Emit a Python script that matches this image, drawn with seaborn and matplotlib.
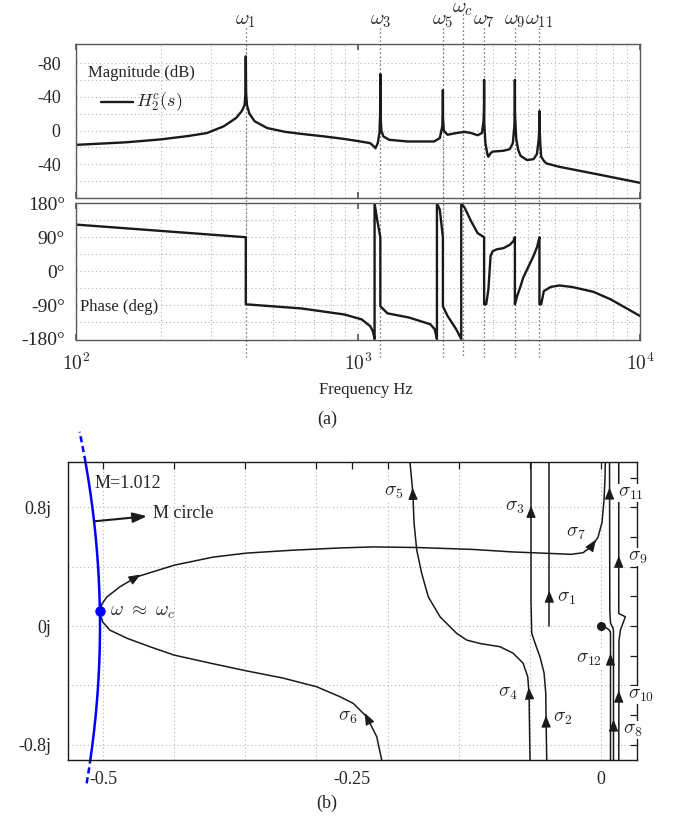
import numpy as np
import pandas as pd
import matplotlib
matplotlib.use("Agg")
import matplotlib.pyplot as plt
import matplotlib.transforms as mtransforms
from matplotlib.ticker import NullLocator
import seaborn as sns

sns.set_theme(style="white")
plt.rcParams["font.family"] = ["Liberation Serif", "DejaVu Serif"]
plt.rcParams["mathtext.fontset"] = "cm"
plt.rcParams["axes.unicode_minus"] = False

# ---------------- Bode plot of H2c(s) ----------------
mag_freq = [100, 150, 200, 250, 291, 334, 370, 387, 396, 399, 400, 401, 404, 412, 430,
            476, 550, 630, 760, 895, 1000, 1105, 1140, 1153, 1175, 1192, 1198, 1200,
            1202, 1210, 1230, 1290, 1500, 1860, 1950, 1990, 1998, 2000, 2002, 2015,
            2050, 2078, 2229, 2391, 2520, 2655, 2750, 2785, 2797, 2800, 2803, 2830,
            2880, 2900, 2950, 3003, 3279, 3455, 3540, 3585, 3597, 3600, 3603, 3640,
            3700, 3771, 3975, 4190, 4310, 4375, 4397, 4400, 4403, 4430, 4463, 4560,
            4656, 5171, 7345, 10000]
mag_db = [-17, -14, -10.5, -6.5, -3, 5, 15, 23, 30, 45, 88, 45, 30, 20, 11,
          3, -1.5, -4, -7, -10, -12.5, -15, -19, -21, -15, -2, 20, 67,
          20, 0, -7, -11, -13, -13, -9, 5, 20, 48, 15, 0,
          -3, -5, -3, -1.6, -3, -5.6, -3, 10, 25, 60, 10, -15,
          -29, -31, -27, -25, -24, -22, -15, 5, 25, 60, 20, -10,
          -23, -30, -35, -34, -28, -10, 5, 23, 5, -15, -31, -36,
          -39, -43, -53, -62]

phase_freq = [100, 400, 400, 630, 895, 1030, 1105, 1130, 1145, 1145, 1169, 1200, 1200,
              1272, 1515, 1806, 1870, 1905, 1905, 1950, 2000, 2000, 2078, 2229, 2323,
              2323, 2390, 2520, 2655, 2800, 2800, 2849, 2900, 2952, 3003, 3110, 3280,
              3455, 3560, 3600, 3600, 3667, 3771, 3850, 3975, 4190, 4320, 4400, 4400,
              4463, 4560, 4820, 5171, 5740, 6846, 7880, 10000]
phase_deg = [123.5, 90, -88, -99, -115, -128, -146, -160, -180, 180, 137, 90, -93,
             -112, -123, -141, -154, -180, 180, 163, 90, -93, -119, -154, -180,
             180, 168, 132, 101, 90, -88, -88, -48, 40, 53, 58, 61,
             70, 80, 90, -88, -66, -40, -18, 4, 40, 65, 90, -88,
             -88, -53, -42, -38, -42, -55, -75, -119]

harmonic_freqs = [400, 1200, 2000, 2800, 3600, 4400]
harmonic_names = [r"$\omega_1$", r"$\omega_3$", r"$\omega_5$", r"$\omega_7$",
                  r"$\omega_9$", r"$\omega_{11}$"]
crossover_freq = 2350

mag_ticks = [80, 40, 0, -40]
mag_ticklabels = ["-80", "-40", "0", "-40"]
phase_ticks = [180, 90, 0, -90, -180]
phase_ticklabels = ["180°", "90°", "0°", "-90°", "-180°"]
freq_ticks = [100, 1000, 10000]
freq_ticklabels = [r"$10^2$", r"$10^3$", r"$10^4$"]

# ---------------- Nyquist branches (real, imag) ----------------
b67_re = [-0.2185, -0.2202, -0.2252, -0.2352, -0.2487, -0.2620, -0.2854, -0.3193, -0.3564,
          -0.3926, -0.4287, -0.4528, -0.4762, -0.4930, -0.5005, -0.5030, -0.5010, -0.4960,
          -0.4830, -0.4662, -0.4284, -0.3896, -0.3564, -0.3092, -0.2620, -0.2289, -0.1850,
          -0.1285, -0.0884, -0.0512, -0.0300, -0.0180, -0.0090, -0.0030, 0.0010, 0.0030,
          0.0040, 0.0045]
b67_im = [-0.95, -0.902, -0.745, -0.611, -0.521, -0.476, -0.409, -0.350, -0.301,
          -0.249, -0.195, -0.139, -0.081, -0.027, 0.030, 0.100, 0.150, 0.197,
          0.265, 0.332, 0.411, 0.465, 0.492, 0.512, 0.527, 0.534, 0.530,
          0.517, 0.500, 0.490, 0.484, 0.495, 0.540, 0.600, 0.700, 0.850,
          1.000, 1.200]
b45_re = [-0.0713, -0.0713, -0.0723, -0.0736, -0.0783, -0.0884, -0.1014, -0.1215, -0.1348,
          -0.1449, -0.1616, -0.1734, -0.1800, -0.1850, -0.1877, -0.1890, -0.1918, -0.1925]
b45_im = [-0.95, -0.902, -0.451, -0.341, -0.249, -0.182, -0.139, -0.117, -0.094,
          -0.049, 0.063, 0.197, 0.355, 0.512, 0.694, 0.904, 1.106, 1.20]
b23_re = [-0.0545, -0.0545, -0.0552, -0.0555, -0.0572, -0.0612, -0.0663, -0.0696, -0.0703,
          -0.0703, -0.0703]
b23_im = [-0.95, -0.902, -0.633, -0.451, -0.316, -0.209, -0.114, -0.047, 0.175, 0.781, 1.20]
b1_re = [-0.0519, -0.0519]
b1_im = [0.0, 1.20]
b12_re = [0.0095, 0.0095, 0.0093, 0.0075, 0.0055, 0.0030, 0.0]
b12_im = [-0.95, -0.060, -0.038, -0.022, -0.013, -0.006, 0.0]
b811_re = [0.0125, 0.0125, 0.0120, 0.0095, 0.0088, 0.0085]
b811_im = [-0.95, -0.030, -0.013, 0.020, 0.100, 1.20]
b109_re = [0.0178, 0.0180, 0.0194, 0.0244, 0.0178, 0.0178]
b109_im = [-0.95, -0.100, -0.027, 0.063, 0.085, 1.20]

branches = {"b67": (b67_re, b67_im), "b45": (b45_re, b45_im), "b23": (b23_re, b23_im),
            "b1": (b1_re, b1_im), "b12": (b12_re, b12_im), "b811": (b811_re, b811_im),
            "b109": (b109_re, b109_im)}

# arrow marks: branch, real, imag
arrow_branch = ["b1", "b23", "b23", "b45", "b45", "b67", "b67", "b811", "b109", "b109",
                "b811", "b12", "b67"]
arrow_re = [-0.0519, -0.0552, -0.0703, -0.0723, -0.1890, -0.2352, -0.0077, 0.0125, 0.0178,
            0.0178, 0.0085, 0.0095, -0.4662]
arrow_im = [0.209, -0.633, 0.781, -0.444, 0.902, -0.613, 0.557, -0.660, 0.444,
            -0.465, 0.904, -0.215, 0.332]

sigma_names = [r"$\sigma_{%d}$" % k for k in range(1, 13)]
sigma_re = [-0.0442, -0.0482, -0.0773, -0.0833, -0.1988, -0.2450, -0.0251, 0.0221, 0.0271,
            0.0271, 0.0171, 0.0005]
sigma_im = [0.189, -0.620, 0.801, -0.451, 0.902, -0.613, 0.624, -0.700, 0.465,
            -0.465, 0.896, -0.224]
sigma_ha = ["left", "left", "right", "right", "right", "right", "center", "left", "left",
            "left", "left", "right"]

m_value = 1.012
touch_imag = 0.10

nyq_xticks = [-0.5, -3 / 7, -5 / 14, -2 / 7, -0.25, -3 / 14, -1 / 7, -1 / 14, 0.0]
nyq_xticklabels = ["-0.5", "", "", "", "-0.25", "", "", "", "0"]
nyq_xgrid = [-0.5, -3 / 7, -5 / 14, -2 / 7, -3 / 14, -1 / 7, -1 / 14, 0.0]
nyq_yticks = [-0.8, -0.6, -0.4, -0.2, 0.0, 0.2, 0.4, 0.6, 0.8, 1.0]
nyq_yticklabels = ["-0.8j", "", "", "", "0j", "", "", "", "0.8j", ""]
nyq_ygrid = [-0.8, -0.4, 0.0, 0.4, 0.8]

# ---------------- figure ----------------
W, H = 673, 822
fig = plt.figure(figsize=(W / 100, H / 100), dpi=100)


def frame(left, top, right, bottom):
    return fig.add_axes([left / W, 1 - bottom / H, (right - left) / W, (bottom - top) / H])


ax_mag = frame(76, 44, 640, 198)
ax_ph = frame(76, 203, 640, 340)
ax_ny = frame(68, 462, 637, 760)

DOT = (0, (1, 2.5))
GRID = "0.70"
FS = 12

grid_freqs = [m * 10 ** e for e in (2, 3) for m in range(1, 10)] + [10000]

for ax in (ax_mag, ax_ph):
    ax.set_xscale("log")
    ax.set_xlim(100, 10000)
    ax.patch.set_alpha(0)
    for f in grid_freqs:
        ax.axvline(f, color=GRID, lw=0.8, ls=DOT, zorder=0)
    for s in ax.spines.values():
        s.set_color("0.35")
        s.set_linewidth(1.0)

# magnitude
sns.lineplot(data=pd.DataFrame({"f": mag_freq, "db": mag_db}), x="f", y="db", ax=ax_mag,
             color="k", lw=1.7, sort=False, estimator=None)
ax_mag.set_ylim(-80, 102.6)
for v in range(-60, 100, 20):
    ax_mag.axhline(v, color=GRID, lw=0.8, ls=DOT, zorder=0)
ax_mag.set_yticks(mag_ticks)
ax_mag.set_yticklabels(mag_ticklabels)
ax_mag.set_xticks(freq_ticks)
ax_mag.set_xticklabels([])

ax_mag.plot([0.0443, 0.1011], [0.6234, 0.6234], transform=ax_mag.transAxes, color="k", lw=1.7)
ax_mag.text(0.0213, 0.8117, "Magnitude (dB)", transform=ax_mag.transAxes, ha="left",
            va="center", fontsize=FS)
ax_mag.text(0.1064, 0.6234, r"$H_2^c(s)$", transform=ax_mag.transAxes, ha="left",
            va="center", fontsize=FS + 1)

# phase
sns.lineplot(data=pd.DataFrame({"f": phase_freq, "deg": phase_deg}), x="f", y="deg",
             ax=ax_ph, color="k", lw=1.7, sort=False, estimator=None)
ax_ph.set_ylim(-182.7, 180.8)
for v in range(-135, 180, 45):
    ax_ph.axhline(v, color=GRID, lw=0.8, ls=DOT, zorder=0)
ax_ph.set_yticks(phase_ticks)
ax_ph.set_yticklabels(phase_ticklabels)
ax_ph.set_xticks(freq_ticks)
ax_ph.set_xticklabels(freq_ticklabels)
ax_ph.text(0.007, 0.243, "Phase (deg)", transform=ax_ph.transAxes, ha="left", va="center",
           fontsize=FS, bbox=dict(facecolor="white", edgecolor="none", pad=0.6))

for ax in (ax_mag, ax_ph):
    ax.set_xlabel("")
    ax.set_ylabel("")
    ax.xaxis.set_minor_locator(NullLocator())
    ax.tick_params(axis="x", which="major", direction="in", length=4, top=True,
                   bottom=True, color="0.35", labelsize=FS + 2, pad=9)
ax_mag.tick_params(axis="y", length=0, labelsize=FS + 1, pad=11)
ax_ph.tick_params(axis="y", length=0, labelsize=FS + 2, pad=8)

# resonance markers spanning both Bode panels
trans = mtransforms.blended_transform_factory(ax_mag.transData, fig.transFigure)
for f, name in zip(harmonic_freqs, harmonic_names):
    ax_mag.plot([f, f], [1 - 28 / H, 1 - 357 / H], transform=trans, clip_on=False,
                color="0.3", lw=0.9, ls=(0, (1, 2.2)), zorder=1)
    ax_mag.text(f, 1 - 20 / H, name, transform=trans, ha="center", va="center",
                fontsize=FS + 3)
ax_mag.plot([crossover_freq] * 2, [1 - 14 / H, 1 - 357 / H], transform=trans, clip_on=False,
            color="0.3", lw=0.9, ls=(0, (1, 2.2)), zorder=1)
ax_mag.text(crossover_freq, 1 - 9 / H, r"$\omega_c$", transform=trans, ha="center",
            va="center", fontsize=FS + 3)

fig.text(366 / W, 1 - 390 / H, "Frequency Hz", ha="center", va="center", fontsize=FS)
fig.text(327 / W, 1 - 419 / H, "(a)", ha="center", va="center", fontsize=FS + 1)

# ---------------- Nyquist panel ----------------
ax_ny.set_xlim(-0.5351, 0.0361)
ax_ny.set_ylim(-0.9024, 1.1064)
for x in nyq_xgrid:
    ax_ny.axvline(x, color=GRID, lw=0.8, ls=DOT, zorder=0)
for y in nyq_ygrid:
    ax_ny.axhline(y, color=GRID, lw=0.8, ls=DOT, zorder=0)

for name, (re, im) in branches.items():
    sns.lineplot(x=re, y=im, ax=ax_ny, color="k", lw=1.1, sort=False, estimator=None)

# M circle: |G/(1+G)| = M
centre = -m_value ** 2 / (m_value ** 2 - 1)
radius = m_value / (m_value ** 2 - 1)
arc_in = np.linspace(-0.9024, 1.1064, 300)
sns.lineplot(x=centre + np.sqrt(radius ** 2 - arc_in ** 2), y=arc_in, ax=ax_ny,
             color="#0000ff", lw=1.8, sort=False, estimator=None)
for lo, hi in ((1.1064, 1.31), (-1.06, -0.9024)):
    arc_out = np.linspace(lo, hi, 40)
    ax_ny.plot(centre + np.sqrt(radius ** 2 - arc_out ** 2), arc_out, color="#0000ff",
               lw=1.8, ls=(0, (2.5, 1.5)), clip_on=False)
ax_ny.plot([centre + np.sqrt(radius ** 2 - touch_imag ** 2)], [touch_imag], "o",
           color="#0000ff", ms=6.5, zorder=5)
ax_ny.plot([0.0], [0.0], "o", color="k", ms=5.5, zorder=5)

ax_ny.set_xlabel("")
ax_ny.set_ylabel("")


def arrow_on(ax, xs, ys, px, py):
    T = ax.transData
    pts = T.transform(np.column_stack([xs, ys]))
    p = T.transform((px, py))
    best = None
    for a, b in zip(pts[:-1], pts[1:]):
        d = b - a
        L = np.hypot(*d)
        if L == 0:
            continue
        t = np.clip(np.dot(p - a, d) / L ** 2, 0, 1)
        dist = np.hypot(*(a + t * d - p))
        if best is None or dist < best[0]:
            best = (dist, d / L)
    u = best[1]
    tip = T.inverted().transform(p + 4.5 * u)
    tail = T.inverted().transform(p - 5 * u)
    ax.annotate("", xy=tip, xytext=tail,
                arrowprops=dict(arrowstyle="-|>,head_length=0.6,head_width=0.24",
                                color="k", lw=0.8, shrinkA=0, shrinkB=0, mutation_scale=12))


for br, px, py in zip(arrow_branch, arrow_re, arrow_im):
    arrow_on(ax_ny, *branches[br], px, py)

for name, x, y, ha in zip(sigma_names, sigma_re, sigma_im, sigma_ha):
    ax_ny.text(x, y, name, ha=ha, va="center", fontsize=FS + 2, clip_on=False, zorder=6,
               bbox=dict(facecolor="white", edgecolor="none", pad=0.3))

ax_ny.text(-0.508, 0.963, "M=1.012", ha="left", va="center", fontsize=FS + 1)
ax_ny.annotate("", xy=(-0.4558, 0.741), xytext=(-0.508, 0.707),
               arrowprops=dict(arrowstyle="-|>,head_length=0.7,head_width=0.25", color="k",
                               lw=1.5, shrinkA=0, shrinkB=0, mutation_scale=12))
ax_ny.text(-0.4498, 0.761, "M circle", ha="left", va="center", fontsize=FS + 1)
ax_ny.text(-0.493, 0.094, r"$\omega\ \approx\ \omega_c$", ha="left", va="center",
           fontsize=FS + 2)

ax_ny.set_xticks(nyq_xticks)
ax_ny.set_xticklabels(nyq_xticklabels)
ax_ny.set_yticks(nyq_yticks)
ax_ny.set_yticklabels(nyq_yticklabels)
ax_ny.tick_params(direction="in", length=5, width=0.9, top=True, right=True, color="k",
                  labelsize=FS + 1, pad=8)
ax_ny.tick_params(axis="y", pad=12)
for s in ax_ny.spines.values():
    s.set_color("k")
    s.set_linewidth(1.0)

fig.text(327 / W, 1 - 803 / H, "(b)", ha="center", va="center", fontsize=FS + 1)

fig.savefig("out.png", dpi=100)
